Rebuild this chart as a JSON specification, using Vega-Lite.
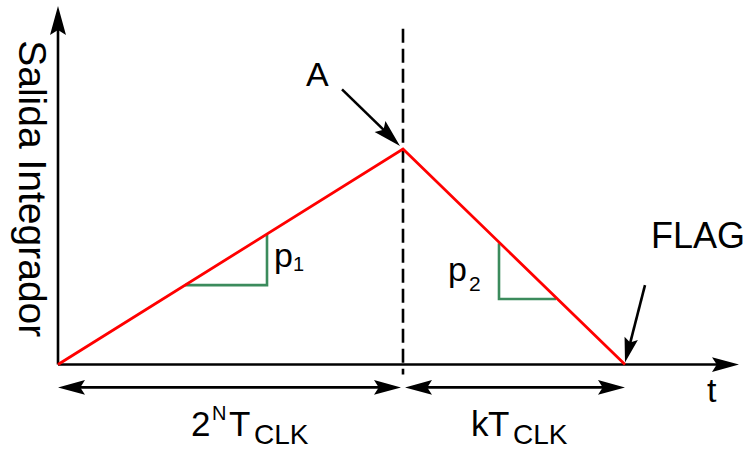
{
  "$schema": "https://vega.github.io/schema/vega-lite/v6.json",
  "width": 749,
  "height": 450,
  "padding": 0,
  "autosize": {"type": "fit", "contains": "padding"},
  "background": "white",
  "config": {"view": {"stroke": null}},
  "datasets": {
    "ramp": [
      {"t": 0, "v": 0},
      {"t": 345, "v": 217},
      {"t": 567, "v": 0}
    ],
    "strokes": [
      {"g": "yaxis", "t": 0, "v": 0},
      {"g": "yaxis", "t": 0, "v": 342},
      {"g": "xaxis", "t": 0, "v": 0},
      {"g": "xaxis", "t": 662, "v": 0},
      {"g": "span1", "t": 12, "v": -23},
      {"g": "span1", "t": 331, "v": -23},
      {"g": "span2", "t": 359, "v": -23},
      {"g": "span2", "t": 555, "v": -23},
      {"g": "pointerA", "t": 284, "v": 277},
      {"g": "pointerA", "t": 328, "v": 234},
      {"g": "pointerFlag", "t": 587, "v": 80},
      {"g": "pointerFlag", "t": 572, "v": 21}
    ],
    "slopes": [
      {"g": "p1", "t": 127, "v": 80},
      {"g": "p1", "t": 209, "v": 80},
      {"g": "p1", "t": 209, "v": 131},
      {"g": "p2", "t": 441, "v": 122},
      {"g": "p2", "t": 441, "v": 66},
      {"g": "p2", "t": 498, "v": 66}
    ],
    "marker": [
      {"t": 345, "v": 338},
      {"t": 345, "v": -10}
    ],
    "heads": [
      {"t": 0, "v": 361, "angle": 0, "s": 841},
      {"t": 681, "v": 0, "angle": 90, "s": 729},
      {"t": 0, "v": -23, "angle": 270, "s": 729},
      {"t": 343, "v": -23, "angle": 90, "s": 729},
      {"t": 347, "v": -23, "angle": 270, "s": 729},
      {"t": 567, "v": -23, "angle": 90, "s": 729},
      {"t": 342, "v": 220, "angle": 134.5, "s": 784},
      {"t": 567, "v": 2, "angle": 194.4, "s": 625}
    ],
    "labels": [
      {"label": "A", "t": 248, "v": 280, "fs": 34},
      {"label": "FLAG", "t": 593, "v": 117, "fs": 36},
      {"label": "p", "t": 216, "v": 98, "fs": 34},
      {"label": "1", "t": 235, "v": 94, "fs": 20},
      {"label": "p", "t": 390, "v": 84, "fs": 34},
      {"label": "2", "t": 411, "v": 74, "fs": 21},
      {"label": "t", "t": 649, "v": -38, "fs": 34},
      {"label": "2", "t": 133, "v": -72, "fs": 35},
      {"label": "N", "t": 154, "v": -56, "fs": 20},
      {"label": "T", "t": 171, "v": -72, "fs": 35},
      {"label": "CLK", "t": 196, "v": -80, "fs": 28},
      {"label": "k", "t": 413, "v": -72, "fs": 35},
      {"label": "T", "t": 430, "v": -72, "fs": 35},
      {"label": "CLK", "t": 455, "v": -80, "fs": 28}
    ],
    "ytitle": [
      {"label": "Salida Integrador", "t": -27, "v": 177}
    ]
  },
  "encoding": {
    "x": {"field": "t", "type": "quantitative", "scale": {"domain": [-58, 691], "nice": false, "zero": false}, "axis": null},
    "y": {"field": "v", "type": "quantitative", "scale": {"domain": [-83, 367], "nice": false, "zero": false}, "axis": null}
  },
  "layer": [
    {
      "data": {"name": "marker"},
      "mark": {"type": "line", "color": "black", "strokeWidth": 2.6, "strokeDash": [14, 6]},
      "encoding": {}
    },
    {
      "data": {"name": "strokes"},
      "mark": {"type": "line", "color": "black", "strokeWidth": 2.6},
      "encoding": {"detail": {"field": "g"}}
    },
    {
      "data": {"name": "slopes"},
      "mark": {"type": "line", "color": "#3b8b5c", "strokeWidth": 2.6, "strokeJoin": "miter"},
      "encoding": {"detail": {"field": "g"}, "order": {"value": 0}}
    },
    {
      "data": {"name": "ramp"},
      "mark": {"type": "line", "color": "#ff0000", "strokeWidth": 2.8},
      "encoding": {}
    },
    {
      "data": {"name": "heads"},
      "mark": {"type": "point", "shape": "M0,0L0.55,2L0,1.65L-0.55,2Z", "filled": true, "color": "black", "opacity": 1, "strokeWidth": 0},
      "encoding": {
        "angle": {"field": "angle", "type": "quantitative", "scale": null},
        "size": {"field": "s", "type": "quantitative", "scale": null}
      }
    },
    {
      "data": {"name": "labels"},
      "mark": {"type": "text", "font": "Liberation Sans", "align": "left", "baseline": "alphabetic", "color": "black"},
      "encoding": {
        "text": {"field": "label"},
        "size": {"field": "fs", "type": "quantitative", "scale": null}
      }
    },
    {
      "data": {"name": "ytitle"},
      "mark": {"type": "text", "font": "Liberation Sans", "fontSize": 39, "angle": 90, "align": "center", "baseline": "middle", "color": "black"},
      "encoding": {"text": {"field": "label"}}
    }
  ]
}
